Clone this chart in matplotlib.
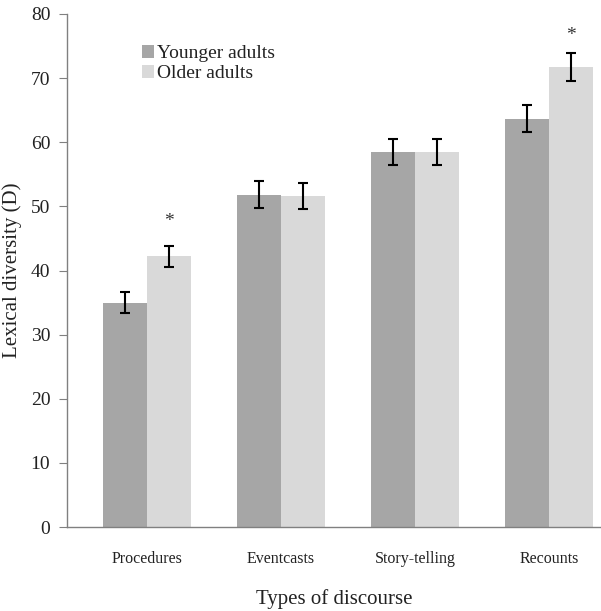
import numpy as np
import matplotlib
matplotlib.use('Agg')
import matplotlib.pyplot as plt

categories = ['Procedures', 'Eventcasts', 'Story-telling', 'Recounts']
younger = [35.0, 51.8, 58.5, 63.7]
older = [42.2, 51.6, 58.5, 71.7]
younger_err = [1.6, 2.1, 2.0, 2.1]
older_err = [1.6, 2.0, 2.0, 2.2]
star_pos = [(0, 47.6), (3, 76.6)]  # older-bar index, height of the asterisk

plt.rcParams['font.family'] = ['Liberation Serif', 'DejaVu Serif']

fig = plt.figure(figsize=(6.01, 6.11), dpi=100)
ax = fig.add_axes([67 / 601, 1 - 527 / 611, 534 / 601, 513 / 611])

x = np.arange(len(categories))
w = 0.33
ax.bar(x - w / 2, younger, w, color='#a6a6a6', label='Younger adults',
       yerr=younger_err, error_kw=dict(ecolor='black', elinewidth=1.5, capsize=3.5, capthick=1.5))
ax.bar(x + w / 2, older, w, color='#d9d9d9', label='Older adults',
       yerr=older_err, error_kw=dict(ecolor='black', elinewidth=1.5, capsize=3.5, capthick=1.5))

for i, h in star_pos:
    ax.text(x[i] + w / 2, h, '*', ha='center', va='center', fontsize=14, color='#333333')

ax.set_xlim(-0.6, 3.39)
ax.set_ylim(0, 80)
ax.set_yticks(range(0, 81, 10))
ax.tick_params(axis='y', labelsize=14, direction='out', length=6, color='#808080',
               labelcolor='#222222', pad=6)
ax.set_xticks(x)
ax.set_xticklabels(categories, fontsize=11.5, color='#222222')
ax.tick_params(axis='x', length=0, pad=17)

for s in ['top', 'right']:
    ax.spines[s].set_visible(False)
for s in ['left', 'bottom']:
    ax.spines[s].set_color('#808080')
    ax.spines[s].set_linewidth(1)

ax.set_ylabel('Lexical diversity (D)', fontsize=15, color='#222222', labelpad=6)
ax.set_xlabel('Types of discourse', fontsize=15, color='#222222', labelpad=16)

leg = ax.legend(loc='upper left', bbox_to_anchor=(0.125, 0.955), frameon=False, fontsize=14,
                handlelength=0.65, handleheight=0.65, handletextpad=0.15, labelspacing=0.15,
                borderaxespad=0)
for t in leg.get_texts():
    t.set_color('#222222')

fig.savefig('out.png', dpi=100)
